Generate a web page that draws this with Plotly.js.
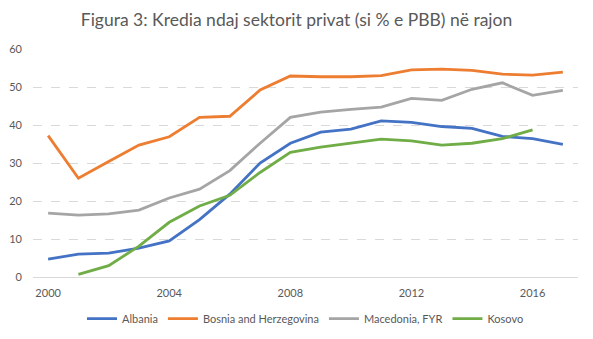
<!DOCTYPE html>
<html><head><meta charset="utf-8">
<script src="https://cdn.plot.ly/plotly-3.0.1.min.js"></script>
<style>html,body{margin:0;padding:0;background:#fff}#c{width:593px;height:339px}</style>
</head><body><div id="c"></div>
<script>
var years = [2000,2001,2002,2003,2004,2005,2006,2007,2008,2009,2010,2011,2012,2013,2014,2015,2016,2017];
var albania = [4.7,6.0,6.3,7.6,9.5,15.1,21.8,30.0,35.2,38.1,38.9,41.1,40.7,39.6,39.1,37.0,36.4,34.9];
var bosnia = [37.2,26.0,30.4,34.7,36.9,42.0,42.3,49.2,52.9,52.7,52.7,53.0,54.5,54.7,54.4,53.4,53.1,53.9];
var macedonia = [16.8,16.3,16.6,17.6,20.8,23.1,28.0,35.2,42.0,43.4,44.1,44.7,47.0,46.5,49.4,51.1,47.8,49.1];
var kosovo = [null,0.7,3.0,8.1,14.4,18.7,21.5,27.5,32.8,34.2,35.2,36.3,35.8,34.7,35.2,36.4,38.7,null];
var names = ["Albania","Bosnia and Herzegovina","Macedonia, FYR","Kosovo"];
var colors = ["#4472C4","#ED7D31","#A5A5A5","#70AD47"];
var xTicks = [2000,2004,2008,2012,2016];
var yTicks = [0,10,20,30,40,50,60];
var series = [albania,bosnia,macedonia,kosovo];
var data = series.map(function(s,i){
  return {x: years, y: s, type:'scatter', mode:'lines', name:names[i],
    line:{color:colors[i], width:2.8}, connectgaps:false, hoverinfo:'skip'};
});
var layout = {
  width:593, height:339,
  margin:{l:33,r:15,t:49,b:62, autoexpand:false},
  paper_bgcolor:'#fff', plot_bgcolor:'#fff',
  font:{family:'Lato, "Open Sans", sans-serif', color:'#595959', size:11},
  title:{text:'Figura 3: Kredia ndaj sektorit privat (si % e PBB) në rajon',
    font:{size:17.5,color:'#595959',family:'Lato, "Open Sans", sans-serif'},
    x:0.5, xanchor:'center', y:0.94, yanchor:'middle'},
  xaxis:{range:[1999.5,2017.5], tickvals:xTicks, ticktext:xTicks.map(String),
    showgrid:false, zeroline:false, showline:false, ticks:'', fixedrange:true, automargin:false,
    ticklabelstandoff:8},
  yaxis:{range:[0,60], tickvals:yTicks, gridcolor:'#D9D9D9', griddash:'dash', gridwidth:1,
    zeroline:true, zerolinecolor:'#D9D9D9', zerolinewidth:1, showline:false, ticks:'',
    ticklabelstandoff:10, automargin:false},
  showlegend:true,
  legend:{orientation:'h', x:0.5, xanchor:'center', yref:'container', y:0.06, yanchor:'middle',
    font:{size:11,color:'#595959'}, bgcolor:'rgba(0,0,0,0)'}
};
Plotly.newPlot('c', data, layout, {displayModeBar:false, staticPlot:true});
</script></body></html>
